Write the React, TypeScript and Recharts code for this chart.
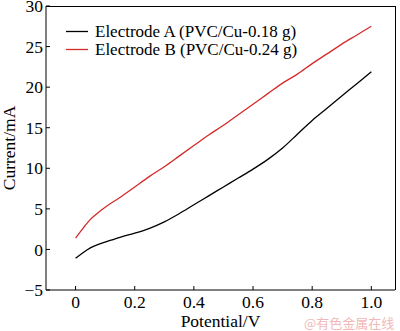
import React from "react"
import {
  Label,
  Line,
  LineChart,
  XAxis,
  YAxis,
} from "recharts"

const potentials = [
  0, 0.025, 0.05, 0.075, 0.1, 0.15, 0.2, 0.25, 0.3, 0.35, 0.4, 0.45, 0.5, 0.55,
  0.6, 0.65, 0.7, 0.75, 0.8, 0.85, 0.9, 0.95, 1.0,
]
const electrodeA = [
  -1.1, -0.4, 0.2, 0.6, 0.9, 1.5, 2.0, 2.6, 3.4, 4.4, 5.5, 6.6, 7.7, 8.8, 9.9,
  11.1, 12.5, 14.2, 15.9, 17.4, 18.9, 20.4, 21.9,
]
const electrodeB = [
  1.4, 2.6, 3.7, 4.5, 5.2, 6.4, 7.7, 9.0, 10.2, 11.5, 12.8, 14.1, 15.3, 16.6,
  17.9, 19.2, 20.5, 21.6, 22.9, 24.1, 25.3, 26.4, 27.5,
]
const xTicks = [0, 0.2, 0.4, 0.6, 0.8, 1.0]
const yTicks = [-5, 0, 5, 10, 15, 20, 25, 30]
const xDomain = [-0.1, 1.08]
const yDomain = [-5, 30]
const seriesNames = ["Electrode A (PVC/Cu-0.18 g)", "Electrode B (PVC/Cu-0.24 g)"]
const seriesColors = ["#000000", "#d42a2a"]

const data = potentials.map((x, i) => ({
  x,
  a: electrodeA[i],
  b: electrodeB[i],
}))

const font = '"Liberation Serif", "Times New Roman", serif'
const tickStyle = { fill: "#000", fontSize: 17.5, fontFamily: font }

const margin = { top: 6, right: 5, bottom: 0, left: 0 }
const yAxisWidth = 46
const xAxisHeight = 41
const chartW = 400
const chartH = 331

function LegendBox() {
  return (
    <div
      style={{
        position: "absolute",
        left: 66,
        top: 23,
        fontFamily: font,
        fontSize: 17,
        lineHeight: "17.5px",
      }}
    >
      {seriesNames.map((name, i) => (
        <div key={name} style={{ display: "flex", alignItems: "center" }}>
          <svg width={29} height={17}>
            <line x1={0} x2={22} y1={8.5} y2={8.5} stroke={seriesColors[i]} strokeWidth={1.3} />
          </svg>
          <span style={{ color: "#000", whiteSpace: "nowrap" }}>{name}</span>
        </div>
      ))}
    </div>
  )
}

export default function App() {
  return (
    <div style={{ position: "absolute", left: 0, top: 0, width: chartW, height: chartH, background: "#fff" }}>
      <LineChart width={chartW} height={chartH} data={data} margin={margin}>
        <XAxis
          dataKey="x"
          type="number"
          domain={xDomain}
          allowDataOverflow
          ticks={xTicks}
          tickFormatter={(v: number) => (v === 0 ? "0" : v.toFixed(1))}
          height={xAxisHeight}
          stroke="#000"
          tick={tickStyle}
          tickSize={-4}
          tickMargin={10}
        >
          <Label
            value="Potential/V"
            position="insideBottom"
            offset={4}
            style={{ fill: "#000", fontSize: 17.5, fontFamily: font }}
          />
        </XAxis>
        <YAxis
          type="number"
          domain={yDomain}
          allowDataOverflow
          ticks={yTicks}
          tickFormatter={(v: number) => String(v).replace("-", "\u2212")}
          width={yAxisWidth}
          stroke="#000"
          tick={tickStyle}
          tickSize={-4}
          tickMargin={7}
          interval={0}
        >
          <Label
            content={(props: any) => {
              const vb = props.viewBox || { x: 0, y: 6, height: 284 }
              const cx = vb.x + 15
              const cy = vb.y + vb.height / 2
              return (
                <text
                  x={cx}
                  y={cy}
                  transform={`rotate(-90, ${cx}, ${cy})`}
                  textAnchor="middle"
                  fill="#000"
                  fontSize={17.5}
                  fontFamily={font}
                >
                  Current/mA
                </text>
              )
            }}
          />
        </YAxis>
        <Line
          dataKey="a"
          type="monotone"
          stroke={seriesColors[0]}
          strokeWidth={1.3}
          dot={false}
          isAnimationActive={false}
        />
        <Line
          dataKey="b"
          type="monotone"
          stroke={seriesColors[1]}
          strokeWidth={1.3}
          dot={false}
          isAnimationActive={false}
        />
      </LineChart>
      {/* top and right sides of the plot frame */}
      <div
        style={{
          position: "absolute",
          left: margin.left + yAxisWidth,
          top: margin.top - 0.5,
          width: chartW - margin.left - margin.right - yAxisWidth + 0.5,
          height: chartH - margin.top - margin.bottom - xAxisHeight,
          boxSizing: "border-box",
          borderTop: "1px solid #000",
          borderRight: "1px solid #000",
          pointerEvents: "none",
        }}
      />
      <LegendBox />
      <div
        style={{
          position: "absolute",
          left: 304,
          top: 313,
          fontSize: 13,
          color: "#f2b8b8",
          fontFamily: '"Noto Sans CJK SC", sans-serif',
          whiteSpace: "nowrap",
        }}
      >
        @有色金属在线
      </div>
    </div>
  )
}
